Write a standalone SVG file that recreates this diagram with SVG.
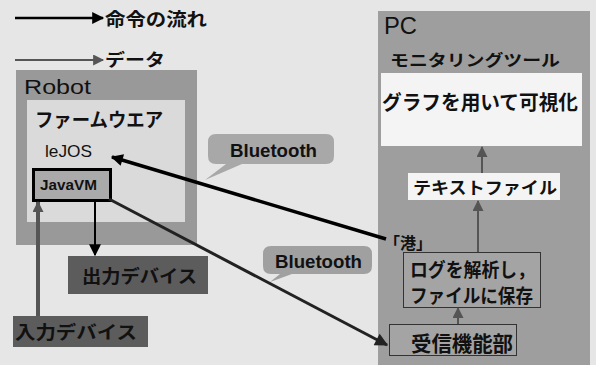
<svg xmlns="http://www.w3.org/2000/svg" width="596" height="365" viewBox="0 0 596 365">
<defs>
<style>
.jp{font-family:"Noto Sans CJK JP","Liberation Sans",sans-serif;font-weight:bold;fill:#111}
.en{font-family:"Liberation Sans",Arial,sans-serif;fill:#111}
.blk{stroke:#000;fill:none}
.gry{stroke:#555;fill:none}
.dev{fill:#5c5c5c}
</style>
<marker id="ab" viewBox="0 0 10 10" refX="9" refY="5" markerWidth="14" markerHeight="12" markerUnits="userSpaceOnUse" orient="auto"><path d="M0,0 L10,5 L0,10 z" fill="#000"/></marker>
<marker id="ag" viewBox="0 0 10 10" refX="9" refY="5" markerWidth="12" markerHeight="11" markerUnits="userSpaceOnUse" orient="auto"><path d="M0,0 L10,5 L0,10 z" fill="#555"/></marker>
<marker id="ad" viewBox="0 0 10 10" refX="9" refY="5" markerWidth="16" markerHeight="13" markerUnits="userSpaceOnUse" orient="auto"><path d="M0,0 L10,5 L0,10 z" fill="#222"/></marker>
</defs>
<rect x="0" y="0" width="596" height="365" fill="#e6e6e6"/>

<g id="legend">
<line x1="15" y1="18" x2="103" y2="18" class="blk" stroke-width="2.5" marker-end="url(#ab)"/>
<text x="105" y="26" class="jp" font-size="18" textLength="102" lengthAdjust="spacingAndGlyphs">命令の流れ</text>
<line x1="15" y1="60" x2="103" y2="60" class="gry" stroke-width="2" marker-end="url(#ag)"/>
<text x="105" y="66" class="jp" font-size="17" textLength="60" lengthAdjust="spacingAndGlyphs">データ</text>
</g>

<g id="robot">
<rect x="16" y="70" width="181" height="175" fill="#999"/>
<text x="24" y="94" class="en" font-size="21" textLength="67" lengthAdjust="spacingAndGlyphs">Robot</text>
<rect x="27" y="100" width="158" height="122" fill="#dadada"/>
<text x="35" y="127" class="jp" font-size="19" textLength="128" lengthAdjust="spacingAndGlyphs">ファームウエア</text>
<text x="45" y="157" class="en" font-size="17" textLength="47" lengthAdjust="spacingAndGlyphs">leJOS</text>
</g>

<g id="javavm">
<rect x="33.5" y="169.5" width="77" height="31" fill="#aaa" stroke="#000" stroke-width="3"/>
<text x="40" y="190" class="en" font-size="14" font-weight="bold" textLength="57" lengthAdjust="spacingAndGlyphs">JavaVM</text>
</g>

<g id="output-device">
<rect x="68" y="256" width="140" height="38" class="dev"/>
<text x="82" y="283" class="jp" font-size="18" textLength="115" lengthAdjust="spacingAndGlyphs">出力デバイス</text>
</g>

<g id="input-device">
<rect x="13" y="316" width="135" height="31" class="dev"/>
<text x="15" y="339" class="jp" font-size="18" textLength="122" lengthAdjust="spacingAndGlyphs">入力デバイス</text>
</g>

<g id="bluetooth1">
<path d="M216,134 H326 Q334,134 334,142 V156 Q334,164 326,164 H242 L205,180 L226,164 H216 Q208,164 208,156 V142 Q208,134 216,134 Z" fill="#a8a8a8"/>
<text x="230" y="157" class="en" font-size="18" font-weight="bold" textLength="87" lengthAdjust="spacingAndGlyphs">Bluetooth</text>
</g>

<g id="bluetooth2">
<path d="M271,246 H364 Q372,246 372,254 V266 Q372,274 364,274 H292 L270,282 L280,274 H271 Q263,274 263,266 V254 Q263,246 271,246 Z" fill="#a0a0a0"/>
<text x="275" y="268" class="en" font-size="18" font-weight="bold" textLength="87" lengthAdjust="spacingAndGlyphs">Bluetooth</text>
</g>

<g id="pc">
<rect x="378" y="11" width="212" height="354" fill="#9e9e9e"/>
<text x="384" y="34" class="en" font-size="23" textLength="33" lengthAdjust="spacingAndGlyphs">PC</text>
<text x="390" y="66" class="jp" font-size="16" textLength="170" lengthAdjust="spacingAndGlyphs">モニタリングツール</text>
</g>

<g id="graph">
<rect x="381" y="73" width="201" height="73" fill="#f4f4f4"/>
<text x="382" y="110" class="jp" font-size="20" textLength="196" lengthAdjust="spacingAndGlyphs">グラフを用いて可視化</text>
</g>

<g id="textfile">
<rect x="408" y="173" width="152" height="27" fill="#f4f4f4"/>
<text x="413" y="194" class="jp" font-size="17" textLength="144" lengthAdjust="spacingAndGlyphs">テキストファイル</text>
</g>

<g id="port">
<text x="384" y="249" class="jp" font-size="16" textLength="48" lengthAdjust="spacingAndGlyphs">「港」</text>
</g>

<g id="parse">
<rect x="403.5" y="252.5" width="137" height="55" fill="#a4a4a4" stroke="#333" stroke-width="1"/>
<text x="410" y="277" class="jp" font-size="19" textLength="125" lengthAdjust="spacingAndGlyphs">ログを解析し，</text>
<text x="410" y="303" class="jp" font-size="19" textLength="123" lengthAdjust="spacingAndGlyphs">ファイルに保存</text>
</g>

<g id="receiver">
<rect x="389.5" y="324.5" width="127" height="31" fill="#a4a4a4" stroke="#333" stroke-width="1"/>
<text x="411" y="351" class="jp" font-size="21" textLength="102" lengthAdjust="spacingAndGlyphs">受信機能部</text>
</g>

<g id="connectors">
<line x1="38" y1="316" x2="38" y2="202" class="gry" stroke-width="4" marker-end="url(#ag)"/>
<line x1="95" y1="201" x2="95" y2="255" class="blk" stroke-width="2" marker-end="url(#ab)"/>
<line x1="386" y1="239" x2="112" y2="157" class="blk" stroke-width="3.5" marker-end="url(#ab)"/>
<line x1="109" y1="199" x2="387" y2="345" stroke="#222" stroke-width="3" marker-end="url(#ad)"/>
<line x1="458" y1="324" x2="458" y2="308" class="gry" stroke-width="2" marker-end="url(#ag)"/>
<line x1="478" y1="252" x2="478" y2="201" class="gry" stroke-width="2" marker-end="url(#ag)"/>
<line x1="482" y1="173" x2="482" y2="147" class="gry" stroke-width="2" marker-end="url(#ag)"/>
</g>
</svg>
